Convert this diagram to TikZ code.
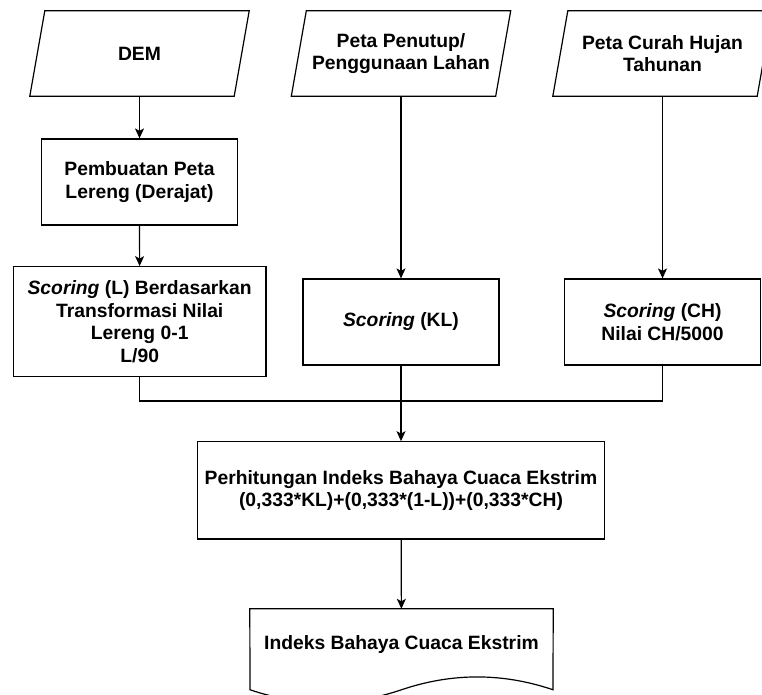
\documentclass[tikz,border=0pt]{standalone}
\usepackage{fontspec}
\setmainfont{Liberation Sans}
\usetikzlibrary{arrows.meta}

% parallelogram outline around a data node (top edge shifted right)
\newcommand\datashape[1]{%
  \draw[outline] (#1.north west) -- ([xshift=15pt]#1.north east)
    -- (#1.south east) -- ([xshift=-15pt]#1.south west) -- cycle;}

\begin{document}
\begin{tikzpicture}[x=1pt,y=-1pt,
  every node/.style={font=\fontsize{19.3}{22.4}\selectfont\bfseries,
                     align=center, inner sep=0pt},
  outline/.style={draw=black, line width=1.2pt, line join=miter},
  procbox/.style={outline, minimum width=196pt, minimum height=86pt},
  databox/.style={minimum width=189pt, minimum height=85pt},
  flow/.style={draw=black, line width=1.2pt,
               -{Stealth[length=10pt,width=9pt,inset=2.5pt]}},
  link/.style={draw=black, line width=1.2pt}]

\useasboundingbox (0,0) rectangle (762,694);
\clip (0,0) rectangle (762,694);

% input maps
\node[databox] (dem)   at (139.5,53.5) {DEM};
\node[databox] (lahan) at (401,53.5)   {Peta Penutup/\\Penggunaan Lahan};
\node[databox] (hujan) at (662.5,53.5) {Peta Curah Hujan\\Tahunan};
\datashape{dem}
\datashape{lahan}
\datashape{hujan}

% processing steps
\node[procbox] (lereng) at (139.5,182) {Pembuatan Peta\\Lereng (Derajat)};
\node[procbox, minimum width=252.7pt, minimum height=110pt] (skorL) at (139.7,321.7)
  {\textit{Scoring} (L) Berdasarkan\\Transformasi Nilai\\Lereng 0-1\\L/90};
\node[procbox] (skorKL) at (401,322)   {\textit{Scoring} (KL)};
\node[procbox] (skorCH) at (662.5,322) {\textit{Scoring} (CH)\\Nilai CH/5000};
\node[procbox, minimum width=406.6pt, minimum height=97.3pt] (hitung) at (401,490.4)
  {Perhitungan Indeks Bahaya Cuaca Ekstrim\\(0,333*KL)+(0,333*(1-L))+(0,333*CH)};

% output document
\node[minimum width=303pt, minimum height=70pt] (hasil) at (401.5,644)
  {Indeks Bahaya Cuaca Ekstrim};
\draw[outline] (hasil.north west) -- (hasil.north east) -- (553,689.75)
  .. controls (502.5,672.65) and (452,672.65) .. (401.5,689.75)
  .. controls (351,706.85) and (300.5,706.85) .. (250,689.75) -- cycle;

% connectors
\draw[flow] (dem) -- (lereng);
\draw[flow] (lereng) -- (skorL);
\draw[flow] (lahan) -- (skorKL);
\draw[flow] (hujan) -- (skorCH);
\coordinate (join) at (401,401);
\draw[link] (skorL.south) |- (join) -| (skorCH.south);
\draw[flow] (skorKL.south) -- (hitung.north);
\draw[flow] (hitung) -- (hasil);
\end{tikzpicture}
\end{document}
